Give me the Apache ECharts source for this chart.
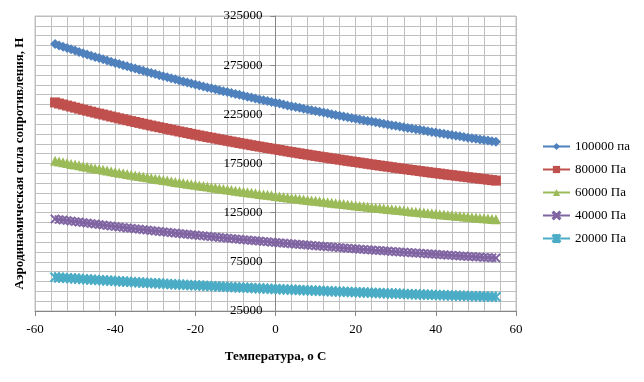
<!DOCTYPE html>
<html>
<head>
<meta charset="utf-8">
<script src="https://cdn.jsdelivr.net/npm/echarts@6/dist/echarts.min.js"></script>
<style>html,body{margin:0;padding:0;background:#fff}#c{width:644px;height:382px}</style>
</head>
<body>
<div id="c"></div>
<script>
var temps = [-55,-54,-53,-52,-51,-50,-49,-48,-47,-46,-45,-44,-43,-42,-41,-40,-39,-38,-37,-36,-35,-34,-33,-32,-31,-30,-29,-28,-27,-26,-25,-24,-23,-22,-21,-20,-19,-18,-17,-16,-15,-14,-13,-12,-11,-10,-9,-8,-7,-6,-5,-4,-3,-2,-1,0,1,2,3,4,5,6,7,8,9,10,11,12,13,14,15,16,17,18,19,20,21,22,23,24,25,26,27,28,29,30,31,32,33,34,35,36,37,38,39,40,41,42,43,44,45,46,47,48,49,50,51,52,53,54,55];

var p100000 = [296400,295000,293700,292400,291100,289800,288500,287200,285900,284700,283400,282200,280900,279700,278500,277300,276100,275000,273800,272700,271500,270400,269200,268100,267000,265900,264800,263800,262700,261600,260600,259500,258500,257500,256400,255400,254400,253400,252400,251500,250500,249500,248600,247600,246700,245700,244800,243900,242900,242000,241100,240200,239300,238500,237600,236700,235900,235000,234100,233300,232500,231600,230800,230000,229200,228400,227600,226800,226000,225200,224400,223600,222900,222100,221300,220600,219800,219100,218300,217600,216900,216100,215400,214700,214000,213300,212600,211900,211200,210500,209800,209200,208500,207800,207100,206500,205800,205200,204500,203900,203200,202600,202000,201300,200700,200100,199500,198900,198300,197600,197000];

var p80000 = [237100,236000,235000,233900,232900,231800,230800,229700,228700,227700,226700,225700,224800,223800,222800,221900,220900,220000,219000,218100,217200,216300,215400,214500,213600,212700,211900,211000,210200,209300,208500,207600,206800,206000,205100,204300,203500,202700,201900,201200,200400,199600,198800,198100,197300,196600,195800,195100,194400,193600,192900,192200,191500,190800,190100,189400,188700,188000,187300,186600,186000,185300,184600,184000,183300,182700,182000,181400,180800,180100,179500,178900,178300,177700,177100,176500,175900,175300,174700,174100,173500,172900,172300,171800,171200,170600,170100,169500,169000,168400,167900,167300,166800,166200,165700,165200,164700,164100,163600,163100,162600,162100,161600,161100,160600,160100,159600,159100,158600,158100,157600];

var p60000 = [177800,177000,176200,175400,174600,173900,173100,172300,171600,170800,170000,169300,168600,167800,167100,166400,165700,165000,164300,163600,162900,162200,161500,160900,160200,159600,158900,158300,157600,157000,156300,155700,155100,154500,153900,153300,152700,152100,151500,150900,150300,149700,149100,148600,148000,147400,146900,146300,145800,145200,144700,144100,143600,143100,142600,142000,141500,141000,140500,140000,139500,139000,138500,138000,137500,137000,136500,136100,135600,135100,134600,134200,133700,133300,132800,132300,131900,131400,131000,130600,130100,129700,129300,128800,128400,128000,127600,127100,126700,126300,125900,125500,125100,124700,124300,123900,123500,123100,122700,122300,121900,121600,121200,120800,120400,120100,119700,119300,119000,118600,118200];

var p40000 = [118600,118000,117500,117000,116400,115900,115400,114900,114400,113900,113400,112900,112400,111900,111400,110900,110500,110000,109500,109100,108600,108200,107700,107300,106800,106400,105900,105500,105100,104700,104200,103800,103400,103000,102600,102200,101800,101400,101000,100600,100200,99800,99400,99000,98700,98300,97900,97500,97200,96800,96500,96100,95700,95400,95000,94700,94300,94000,93700,93300,93000,92700,92300,92000,91700,91300,91000,90700,90400,90100,89800,89400,89100,88800,88500,88200,87900,87600,87300,87000,86700,86500,86200,85900,85600,85300,85000,84800,84500,84200,83900,83700,83400,83100,82900,82600,82300,82100,81800,81600,81300,81000,80800,80500,80300,80000,79800,79500,79300,79100,78800];

var p20000 = [59300,59000,58700,58500,58200,58000,57700,57400,57200,56900,56700,56400,56200,55900,55700,55500,55200,55000,54800,54500,54300,54100,53800,53600,53400,53200,53000,52800,52500,52300,52100,51900,51700,51500,51300,51100,50900,50700,50500,50300,50100,49900,49700,49500,49300,49100,49000,48800,48600,48400,48200,48000,47900,47700,47500,47300,47200,47000,46800,46700,46500,46300,46200,46000,45800,45700,45500,45400,45200,45000,44900,44700,44600,44400,44300,44100,44000,43800,43700,43500,43400,43200,43100,42900,42800,42700,42500,42400,42200,42100,42000,41800,41700,41600,41400,41300,41200,41000,40900,40800,40600,40500,40400,40300,40100,40000,39900,39800,39700,39500,39400];

var seriesNames = ['100000 па','80000 Па','60000 Па','40000 Па','20000 Па'];
var yTicks = [25000,75000,125000,175000,225000,275000,325000];
var yGrid = [25000,35000,45000,55000,65000,75000,85000,95000,105000,115000,125000,135000,145000,155000,165000,175000,185000,195000,205000,215000,225000,235000,245000,255000,265000,275000,285000,295000,305000,315000,325000];

var colors = ['#4F81BD','#C0504D','#9BBB59','#8064A2','#4BACC6'];
var xShape = 'path://M0,1.2L1.2,0L5,3.8L8.8,0L10,1.2L6.2,5L10,8.8L8.8,10L5,6.2L1.2,10L0,8.8L3.8,5Z';
var starShape = 'path://M0,1.2L1.2,0L5,3.8L8.8,0L10,1.2L6.2,5L10,8.8L8.8,10L5,6.2L1.2,10L0,8.8L3.8,5Z M4.4,0L5.6,0L5.6,10L4.4,10Z';
var symbols = ['diamond','rect','triangle',xShape,starShape];
var sizes = [10,10,10,9,10];
var allData = [p100000,p80000,p60000,p40000,p20000];

var font = '"Liberation Serif","Times New Roman",serif';
var chart = echarts.init(document.getElementById('c'), null, {renderer:'canvas'});

var series = allData.map(function(d, i){
  return {
    name: seriesNames[i],
    type: 'line',
    yAxisIndex: 0,
    data: temps.map(function(t, j){ return [t, d[j]]; }),
    symbol: symbols[i],
    symbolSize: sizes[i],
    showSymbol: true,
    showAllSymbol: true,
    animation: false,
    lineStyle: {color: colors[i], width: 2.5},
    itemStyle: {color: colors[i], borderColor: colors[i], borderWidth: (i>=3 ? 0.6 : 0)},
    emphasis: {disabled: true},
    z: 5 - i
  };
});

var plain = function(v){ return String(v); };

chart.setOption({
  animation: false,
  backgroundColor: '#ffffff',
  color: colors,
  grid: {left: 35, right: 128, top: 16, bottom: 71, show: true, borderColor: '#bfbfbf', borderWidth: 1, containLabel: false, outerBoundsMode: 'none'},
  legend: {
    orient: 'vertical',
    left: 537,
    top: 135,
    itemWidth: 27,
    itemHeight: 9,
    itemGap: 10,
    textStyle: {fontFamily: font, fontSize: 13, color: '#000'},
    data: seriesNames
  },
  xAxis: {
    type: 'value',
    min: -60,
    max: 60,
    interval: 20,
    name: 'Температура, о С',
    nameLocation: 'middle',
    nameGap: 39,
    nameTextStyle: {fontFamily: font, fontSize: 13, fontWeight: 'bold', color: '#000'},
    axisLine: {onZero: false, lineStyle: {color: '#868686', width: 1}},
    axisTick: {show: true, length: 5, lineStyle: {color: '#868686'}},
    axisLabel: {fontFamily: font, fontSize: 13, color: '#000', margin: 12, formatter: plain},
    splitLine: {show: true, lineStyle: {color: '#bfbfbf', width: 1}},
    minorTick: {show: false, splitNumber: 5},
    minorSplitLine: {show: true, lineStyle: {color: '#bfbfbf', width: 1}}
  },
  yAxis: [{
    type: 'value',
    min: 25000,
    max: 325000,
    position: 'left',
    offset: -240.5,
    axisLine: {show: true, onZero: false, lineStyle: {color: '#868686', width: 1}},
    axisTick: {show: true, length: 5, customValues: yTicks, lineStyle: {color: '#868686'}},
    axisLabel: {fontFamily: font, fontSize: 13, color: '#000', margin: 13, customValues: yTicks, formatter: plain},
    splitLine: {show: false}
  }, {
    type: 'value',
    min: 25000,
    max: 325000,
    position: 'left',
    name: 'Аэродинамическая сила сопротивления, Н',
    nameLocation: 'middle',
    nameGap: 9,
    nameMoveOverlap: false,
    nameTextStyle: {fontFamily: font, fontSize: 13, fontWeight: 'bold', color: '#000'},
    axisLine: {show: false, onZero: false},
    axisTick: {show: false, customValues: yGrid},
    axisLabel: {show: true, margin: 0, fontSize: 1, customValues: yGrid, formatter: function(){ return ''; }},
    splitLine: {show: true, lineStyle: {color: '#bfbfbf', width: 1}}
  }],
  series: series
});
</script>
</body>
</html>
